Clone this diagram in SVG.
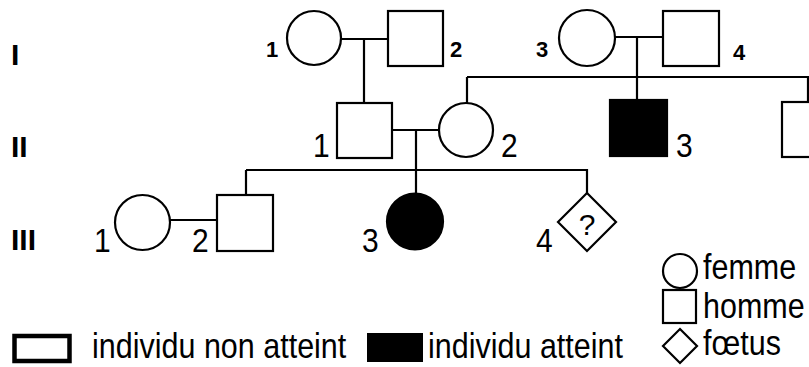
<svg xmlns="http://www.w3.org/2000/svg" width="809" height="367" viewBox="0 0 809 367">
<style>
.s{fill:#fff;stroke:#000;stroke-width:2.2}
.f{fill:#000;stroke:#000;stroke-width:2.2}
.ln{fill:none;stroke:#000;stroke-width:2.2}
.gen{font-family:"Liberation Sans",Arial,sans-serif;font-weight:bold;font-size:30px}
.n1{font-family:"Liberation Sans",Arial,sans-serif;font-weight:bold;font-size:22px}
.n{font-family:"Liberation Sans",Arial,sans-serif;font-size:30px}
.lg{font-family:"Liberation Sans",Arial,sans-serif;font-size:30.5px}
</style>
<rect width="809" height="367" fill="#fff"/>
<g id="generations">
<text class="gen" x="11" y="65">I</text>
<text class="gen" x="11" y="157">II</text>
<text class="gen" x="11" y="250">III</text>
</g>
<g id="connectors">
<path class="ln" d="M341 39H388M364 39V103"/>
<path class="ln" d="M615 37H663M637 37V100"/>
<path class="ln" d="M467 77H808V102M467 77V103"/>
<path class="ln" d="M392 130H439M416 130V194"/>
<path class="ln" d="M246 170H587V193M246 170V195"/>
<path class="ln" d="M170 220H217"/>
</g>
<g id="I-1"><circle class="s" cx="314" cy="38" r="27"/><text class="n1" x="266" y="57">1</text></g>
<g id="I-2"><rect class="s" x="388" y="11" width="55" height="55"/><text class="n1" x="450" y="57">2</text></g>
<g id="I-3"><circle class="s" cx="587" cy="38" r="28"/><text class="n1" x="536" y="57">3</text></g>
<g id="I-4"><rect class="s" x="663" y="11" width="56" height="55"/><text class="n1" x="733" y="60">4</text></g>
<g id="II-1"><rect class="s" x="337" y="103" width="55" height="55"/><text class="n" transform="translate(313 157) scale(1 1.08)">1</text></g>
<g id="II-2"><circle class="s" cx="466" cy="130" r="27"/><text class="n" transform="translate(501 157) scale(1 1.08)">2</text></g>
<g id="II-3"><rect class="f" x="610" y="100" width="57" height="56"/><text class="n" transform="translate(676 157) scale(1 1.08)">3</text></g>
<g id="II-4"><rect class="s" x="782" y="102" width="56" height="55"/></g>
<g id="III-1"><circle class="s" cx="142.5" cy="222.5" r="27.5"/><text class="n" transform="translate(94 252) scale(1 1.08)">1</text></g>
<g id="III-2"><rect class="s" x="217" y="195" width="56" height="56"/><text class="n" transform="translate(192 252) scale(1 1.08)">2</text></g>
<g id="III-3"><circle class="f" cx="415" cy="221.5" r="28"/><text class="n" transform="translate(362 252) scale(1 1.08)">3</text></g>
<g id="III-4"><polygon class="s" points="587,193 616,222 587,251 558,222"/><text class="n" x="587" y="235" text-anchor="middle" font-size="22">?</text><text class="n" transform="translate(536 252) scale(1 1.08)">4</text></g>
<g id="legend">
<rect x="14.5" y="336" width="55" height="25" fill="#fff" stroke="#000" stroke-width="4.5"/>
<text class="lg" transform="translate(92 358) scale(1 1.12)">individu non atteint</text>
<rect x="367" y="333" width="56" height="29" fill="#000"/>
<text class="lg" transform="translate(428 358) scale(1 1.12)">individu atteint</text>
<circle class="s" cx="680" cy="271" r="17"/>
<text class="lg" transform="translate(703 279) scale(1 1.12)">femme</text>
<rect class="s" x="663" y="290" width="33" height="33"/>
<text class="lg" transform="translate(703 318) scale(1 1.12)">homme</text>
<polygon class="s" points="680,329 697,346 680,363 663,346"/>
<text class="lg" transform="translate(703 355) scale(1 1.12)">fœtus</text>
</g>
</svg>
